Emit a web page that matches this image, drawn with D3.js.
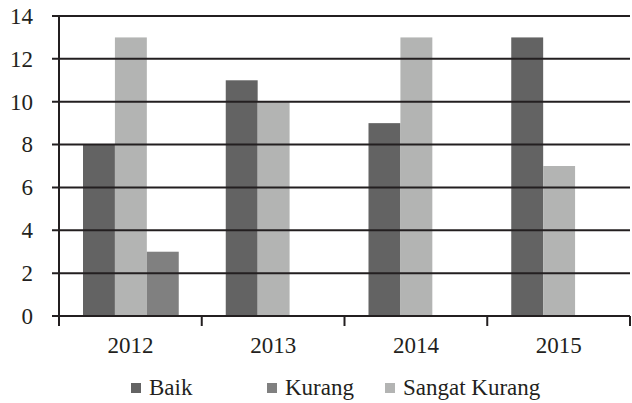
<!DOCTYPE html>
<html>
<head>
<meta charset="utf-8">
<script src="https://cdn.jsdelivr.net/npm/d3@7"></script>
<style>
  body { margin: 0; background: #fff; }
</style>
</head>
<body>
<svg id="chart" width="632" height="403"></svg>
<script>
var years = ['2012', '2013', '2014', '2015'];
var seriesNames = ['Baik', 'Kurang', 'Sangat Kurang'];
var baik = [8, 11, 9, 13];
var kurang = [3, 0, 0, 0];
var sangatKurang = [13, 10, 13, 7];
var yTicks = [0, 2, 4, 6, 8, 10, 12, 14];

// bar order inside each group as drawn in the original
var barOrder = ['Baik', 'Sangat Kurang', 'Kurang'];
var colors = { 'Baik': '#636363', 'Kurang': '#808080', 'Sangat Kurang': '#b3b4b3' };
var values = { 'Baik': baik, 'Kurang': kurang, 'Sangat Kurang': sangatKurang };

var svg = d3.select('#chart');
var plotLeft = 59, plotRight = 630, plotTop = 16, plotBottom = 316;
var fontSize = '23px';
var fontFamily = "'Liberation Serif'";

var x = d3.scaleBand().domain(years).range([plotLeft, plotRight]);
var xInner = d3.scaleBand().domain(barOrder)
    .range([24, x.bandwidth() - 23]);
var y = d3.scaleLinear().domain([0, 14]).range([plotBottom, plotTop]);

// bars
years.forEach(function(yr, i) {
    svg.append('g')
        .attr('transform', 'translate(' + x(yr) + ',0)')
        .selectAll('rect')
        .data(barOrder.filter(function(s) { return values[s][i] > 0; }))
        .enter().append('rect')
            .attr('x', function(s) { return xInner(s); })
            .attr('width', xInner.bandwidth())
            .attr('y', function(s) { return y(values[s][i]); })
            .attr('height', function(s) { return plotBottom - y(values[s][i]); })
            .style('fill', function(s) { return colors[s]; });
});

// gridlines over bars
svg.append('g').selectAll('line')
    .data(yTicks)
    .enter().append('line')
        .attr('x1', 52)
        .attr('x2', plotRight)
        .attr('y1', function(d) { return y(d); })
        .attr('y2', function(d) { return y(d); })
        .style('stroke', '#231f20')
        .style('stroke-width', 2);

// y axis
var yAxis = d3.axisLeft(y).tickValues(yTicks).tickSize(0).tickPadding(26);
var yg = svg.append('g').attr('transform', 'translate(' + plotLeft + ',0)').call(yAxis);
yg.select('.domain').remove();
yg.attr('font-family', null).attr('font-size', null);
yg.selectAll('text')
    .style('font-size', fontSize)
    .style('font-family', fontFamily)
    .style('fill', '#231f20');
svg.append('line')
    .attr('x1', plotLeft).attr('x2', plotLeft)
    .attr('y1', plotTop - 1).attr('y2', plotBottom + 10)
    .style('stroke', '#231f20').style('stroke-width', 2);

// x axis ticks at group boundaries
var bounds = years.map(function(d) { return x(d); }).concat([plotRight]);
svg.append('g').selectAll('line')
    .data(bounds)
    .enter().append('line')
        .attr('x1', function(d) { return d; })
        .attr('x2', function(d) { return d; })
        .attr('y1', plotBottom)
        .attr('y2', plotBottom + 10)
        .style('stroke', '#231f20')
        .style('stroke-width', 2);

svg.append('g').selectAll('text')
    .data(years)
    .enter().append('text')
        .attr('x', function(d) { return x(d) + x.bandwidth() / 2; })
        .attr('y', 353)
        .attr('text-anchor', 'middle')
        .style('font-size', fontSize)
        .style('font-family', fontFamily)
        .style('fill', '#231f20')
        .text(function(d) { return d; });

// legend
var legendX = { 'Baik': 131, 'Kurang': 267, 'Sangat Kurang': 385 };
var lg = svg.append('g').selectAll('g')
    .data(seriesNames)
    .enter().append('g')
        .attr('transform', function(d) { return 'translate(' + legendX[d] + ',383)'; });
lg.append('rect')
    .attr('width', 10).attr('height', 10)
    .style('fill', function(d) { return colors[d]; });
lg.append('text')
    .attr('x', 18)
    .attr('y', 12)
    .style('font-size', fontSize)
    .style('font-family', fontFamily)
    .style('fill', '#231f20')
    .text(function(d) { return d; });
</script>
</body>
</html>
